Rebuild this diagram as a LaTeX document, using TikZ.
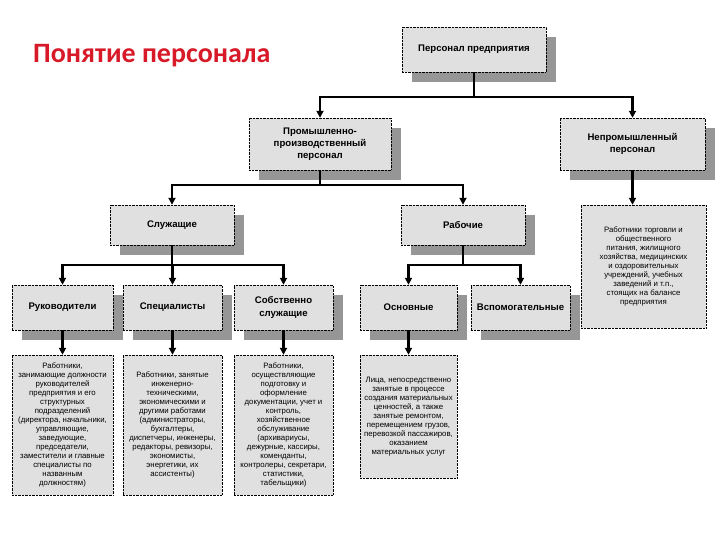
\documentclass[tikz,border=0pt]{standalone}
\usepackage{fontspec}
\setmainfont{Liberation Sans}
\newfontfamily\titlefont{Carlito}
\usepackage{xcolor}
\usepackage{tikz}
\usetikzlibrary{arrows.meta, shadows}
\definecolor{titlered}{RGB}{215, 25, 40}
\definecolor{boxgray}{RGB}{224, 224, 224}
\definecolor{shadowgray}{RGB}{150, 150, 150}

\begin{document}
\begin{tikzpicture}[x=1pt, y=-1pt, >={Triangle[width=7pt,length=7pt]},
  unit/.style={draw, densely dotted, fill=boxgray, align=center, inner sep=1pt,
    font=\bfseries\fontsize{9.6}{12.2}\selectfont,
    drop shadow={shadow xshift=10pt, shadow yshift=-10pt, fill=shadowgray, opacity=1}},
  note/.style={draw, densely dotted, fill=boxgray, align=center, inner sep=1pt,
    font=\fontsize{7.8}{9}\selectfont},
  link/.style={line width=2.2pt}]
  \path[fill=white] (0,0) rectangle (720,540);
  \useasboundingbox (0,0) rectangle (720,540);

  % Title
  \node[anchor=base west, inner sep=0pt, text=titlered, font=\titlefont\bfseries\fontsize{28}{32}\selectfont]
    (title) at (33,63) {Понятие персонала};

  % Level 1 and 2
  \node[unit, minimum width=144pt, minimum height=45pt] (staff) at (474,49.5) {Персонал предприятия};
  \node[unit, minimum width=142pt, minimum height=52pt] (prod) at (320,144)
    {Промышленно-\\производственный\\персонал};
  \node[unit, minimum width=145pt, minimum height=52pt] (nonprod) at (632.5,144)
    {Непромышленный\\персонал};

  % Level 3
  \node[unit, minimum width=124pt, minimum height=40pt] (empl) at (172,225) {Служащие};
  \node[unit, minimum width=124pt, minimum height=40pt] (workers) at (463,225) {Рабочие};
  \node[note, minimum width=125pt, minimum height=123pt] (othernote) at (643.5,266.5)
    {Работники торговли и\\общественного\\питания, жилищного\\хозяйства, медицинских\\и оздоровительных\\учреждений, учебных\\заведений и т.п.,\\стоящих на балансе\\предприятия};

  % Level 4
  \node[unit, minimum width=101pt, minimum height=45pt] (heads) at (62.5,307.5) {Руководители};
  \node[unit, minimum width=99pt, minimum height=45pt] (experts) at (172.5,307.5) {Специалисты};
  \node[unit, minimum width=99pt, minimum height=45pt] (clerks) at (283.5,307.5) {Собственно\\служащие};
  \node[unit, minimum width=97pt, minimum height=45pt] (main) at (408.5,307.5) {Основные};
  \node[unit, minimum width=99pt, minimum height=45pt] (aux) at (520.5,307.5) {Вспомогательные};

  % Descriptions
  \node[note, minimum width=101pt, minimum height=140pt] (headsnote) at (62.5,425)
    {Работники,\\занимающие должности\\руководителей\\предприятия и его\\структурных\\подразделений\\(директора, начальники,\\управляющие,\\заведующие,\\председатели,\\заместители и главные\\специалисты по\\названным\\должностям)};
  \node[note, minimum width=99pt, minimum height=140pt] (expertsnote) at (172.5,425)
    {Работники, занятые\\инженерно-\\техническими,\\экономическими и\\другими работами\\(администраторы,\\бухгалтеры,\\диспетчеры, инженеры,\\редакторы, ревизоры,\\экономисты,\\энергетики, их\\ассистенты)};
  \node[note, minimum width=99pt, minimum height=140pt] (clerksnote) at (283.5,425)
    {Работники,\\осуществляющие\\подготовку и\\оформление\\документации, учет и\\контроль,\\хозяйственное\\обслуживание\\(архивариусы,\\дежурные, кассиры,\\коменданты,\\контролеры, секретари,\\статистики,\\табельщики)};
  \node[note, minimum width=97pt, minimum height=123pt] (mainnote) at (408.5,416.5)
    {Лица, непосредственно\\занятые в процессе\\создания материальных\\ценностей, а также\\занятые ремонтом,\\перемещением грузов,\\перевозкой пассажиров,\\оказанием\\материальных услуг};

  % Connectors
  \draw[link,->] (staff.south) -- ++(0,25) -| (prod.north);
  \draw[link,->] (staff.south) -- ++(0,25) -| (nonprod.north);
  \draw[link,->] (prod.south) -- ++(0,15) -| (empl.north);
  \draw[link,->] (prod.south) -- ++(0,15) -| (workers.north);
  \draw[link,->] (nonprod.south) -- (nonprod.south |- othernote.north);
  \foreach \n in {heads, experts, clerks}
    \draw[link,->] (empl.south) -- ++(0,20) -| (\n.north);
  \foreach \n in {main, aux}
    \draw[link,->] (workers.south) -- ++(0,20) -| (\n.north);
  \foreach \n in {heads, experts, clerks, main}
    \draw[link,->] (\n.south) -- (\n note.north);
\end{tikzpicture}
\end{document}
